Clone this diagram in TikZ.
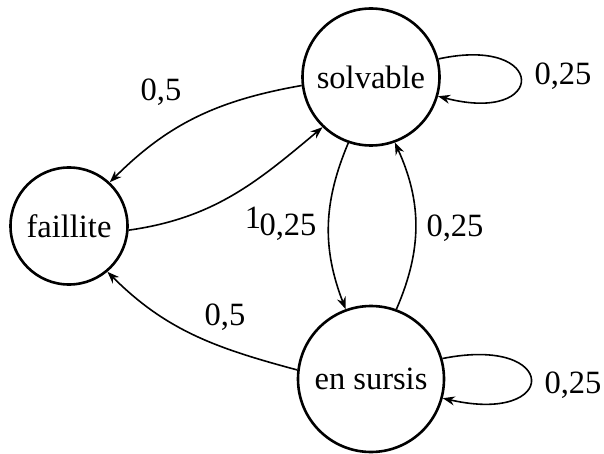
\documentclass[tikz,border=0pt]{standalone}
\usepackage{fontspec}
\setmainfont{Liberation Serif}
\usetikzlibrary{arrows.meta}
\begin{document}
\begin{tikzpicture}[x=1pt,y=-1pt,
  state/.style={circle,draw,line width=2.6pt,inner sep=0pt,font=\fontsize{32.5}{38}\selectfont},
  trans/.style={line width=1.6pt,-{Stealth[length=12pt,width=9pt]}},
  lbl/.style={anchor=base,inner sep=0pt,font=\fontsize{32.5}{38}\selectfont}]
\useasboundingbox (0,0) rectangle (604,454);
\node[state,minimum size=137pt] (solv) at (371,77) {solvable};
\node[state,minimum size=146pt] (sur) at (371,379) {en sursis};
\node[state,minimum size=117pt] (fail) at (69,226) {faillite};
\draw[trans] (solv.187) to[out=190,in=45] (fail.47);
\draw[trans] (fail.-4) to[out=8,in=220] (solv.226);
\draw[trans] (solv.251) to[bend right=22] (sur.110);
\draw[trans] (sur.70) to[bend right=24] (solv.290);
\draw[trans] (sur.173) to[out=165,in=-45] (fail.-50);
\draw[trans] (solv.15) .. controls (548,35) and (548,125) .. (solv.-16);
\draw[trans] (sur.16) .. controls (560,335) and (560,425) .. (sur.-15);
\node[lbl] (l1) at (161,101) {0,5};
\node[lbl] (l2) at (253,228) {1};
\node[lbl] (l3) at (288,235) {0,25};
\node[lbl] (l4) at (455,236) {0,25};
\node[lbl] (l5) at (225,325) {0,5};
\node[lbl] (l6) at (563,85) {0,25};
\node[lbl] (l7) at (573,393) {0,25};
\end{tikzpicture}
\end{document}
